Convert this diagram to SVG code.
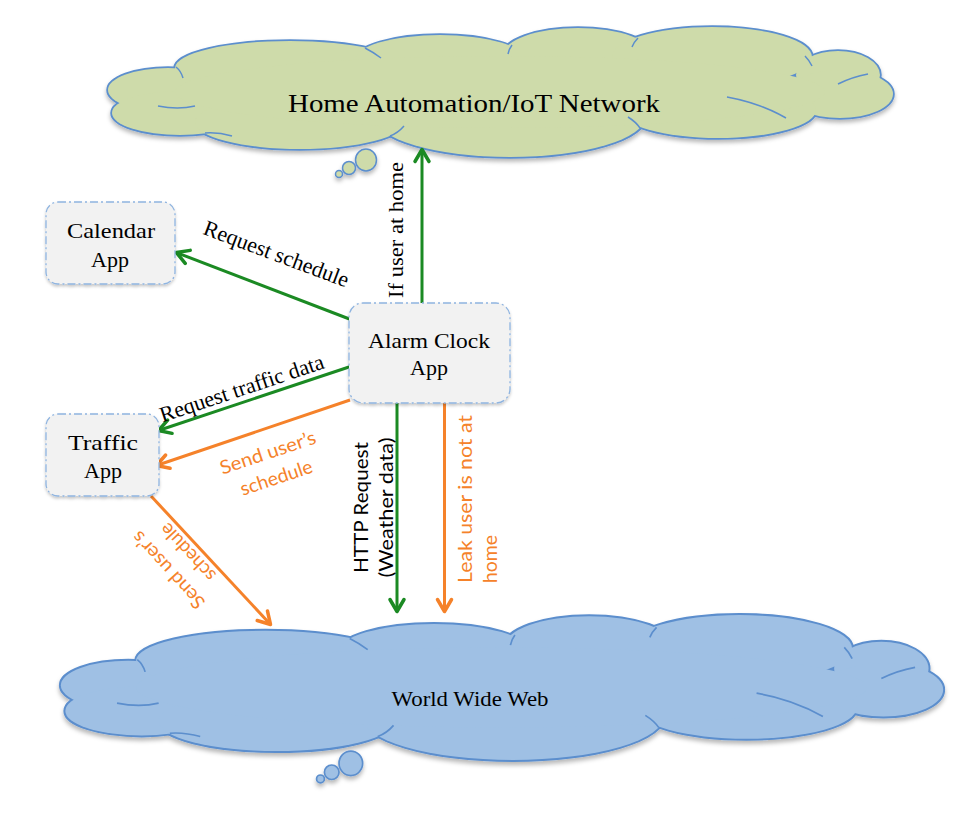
<svg xmlns="http://www.w3.org/2000/svg" width="977" height="816" viewBox="0 0 977 816">
<style>
.serif{font-family:"Liberation Serif","Times New Roman",serif;fill:#000}
.sans{font-family:Lato,"Liberation Sans",Arial,sans-serif}
.box{fill:#f2f2f2;stroke:#8fb4e0;stroke-width:1.3;stroke-dasharray:8 3 2 3}
.g{stroke:#1b8a23;stroke-width:3;fill:none}
.o{stroke:#f5822a;stroke-width:3;fill:none}
.ot{fill:#f5822a}
.inner{fill:none;stroke:#5b8ecd;stroke-width:1.5}
.bub{stroke:#5b8ecd;stroke-width:1.5}
</style>
<defs>
<filter id="sh" x="-5%" y="-10%" width="110%" height="130%"><feDropShadow dx="0" dy="3" stdDeviation="2" flood-color="#000" flood-opacity="0.28"/></filter>
<filter id="bsh" x="-10%" y="-10%" width="120%" height="130%"><feDropShadow dx="0" dy="2" stdDeviation="1.5" flood-color="#000" flood-opacity="0.22"/></filter>
<marker id="ag" markerUnits="userSpaceOnUse" markerWidth="20" markerHeight="20" refX="0" refY="0" orient="auto" overflow="visible"><path d="M-12,-7 L0,0 L-12,7" fill="none" stroke="#1b8a23" stroke-width="3.5" stroke-linecap="round" stroke-linejoin="round"/></marker>
<marker id="ao" markerUnits="userSpaceOnUse" markerWidth="20" markerHeight="20" refX="0" refY="0" orient="auto" overflow="visible"><path d="M-12,-7 L0,0 L-12,7" fill="none" stroke="#f5822a" stroke-width="3.5" stroke-linecap="round" stroke-linejoin="round"/></marker>
<g id="lobes">
<ellipse cx="168" cy="90" rx="60" ry="22"/>
<ellipse cx="180" cy="113" rx="68" ry="22"/>
<ellipse cx="300" cy="122" rx="105" ry="27"/>
<ellipse cx="290" cy="68" rx="115" ry="27"/>
<ellipse cx="440" cy="60" rx="85" ry="25"/>
<ellipse cx="578" cy="55" rx="75" ry="27"/>
<ellipse cx="712" cy="57" rx="100" ry="30"/>
<ellipse cx="838" cy="75" rx="42" ry="24"/>
<ellipse cx="840" cy="94" rx="53" ry="24"/>
<ellipse cx="718" cy="110" rx="98" ry="28"/>
<ellipse cx="510" cy="117" rx="135" ry="40"/>
<ellipse cx="500" cy="92" rx="325" ry="36"/>
</g>
<g id="cloud">
<use href="#lobes" stroke="#5b8ecd" stroke-width="3.5"/>
<use href="#lobes" stroke="none"/>
<path class="inner" d="M176,67 Q181,71 183,78 M158,106 Q178,110 195,106 M205,133 Q218,132 232,136 M390,136 Q398,133 404,126 M640,128 Q636,122 628,117 M727,97 Q760,103 786,118 M838,84 Q852,77 868,74 M805,56 Q809,60 812,66 M638,38 Q634,42 632,47 M512,45 Q509,49 508,54 M365,48 Q373,52 381,58"/>
<g class="bub">
<ellipse cx="366" cy="160" rx="10.5" ry="11"/>
<ellipse cx="349" cy="168" rx="6.5" ry="6.5"/>
<ellipse cx="339" cy="174" rx="3.5" ry="3.5"/>
</g>
</g>
</defs>

<g id="home-network">
<use href="#cloud" fill="#cedbaa" filter="url(#sh)"/>
<text class="serif" x="474" y="112" font-size="25" text-anchor="middle" textLength="372" lengthAdjust="spacingAndGlyphs">Home Automation/IoT Network</text>
</g>

<g id="www">
<use href="#cloud" fill="#9fc0e4" filter="url(#sh)" transform="matrix(1.124 0 0 1.115 -60.56 584.92)"/>
<text class="serif" x="470" y="706" font-size="21" text-anchor="middle" textLength="157" lengthAdjust="spacingAndGlyphs">World Wide Web</text>
</g>

<g id="connectors">
<line class="g" x1="352" y1="320" x2="176.5" y2="252.6" marker-end="url(#ag)"/>
<line class="g" x1="422" y1="303" x2="422" y2="149.5" marker-end="url(#ag)"/>
<line class="g" x1="352" y1="366" x2="158.5" y2="430.5" marker-end="url(#ag)"/>
<line class="o" x1="350" y1="400" x2="156.5" y2="465.5" marker-end="url(#ao)"/>
<line class="o" x1="151" y1="496" x2="270.5" y2="624.5" marker-end="url(#ao)"/>
<line class="g" x1="397" y1="403" x2="397" y2="611.5" marker-end="url(#ag)"/>
<line class="o" x1="444.5" y1="403" x2="444.5" y2="611.5" marker-end="url(#ao)"/>
</g>

<g id="calendar-app">
<rect class="box" x="46" y="202" width="129" height="82" rx="12" filter="url(#bsh)"/>
<text class="serif" x="111" y="238" font-size="22" text-anchor="middle" textLength="88" lengthAdjust="spacingAndGlyphs">Calendar</text>
<text class="serif" x="110" y="267" font-size="22" text-anchor="middle">App</text>
</g>

<g id="alarm-clock-app">
<rect class="box" x="349" y="303" width="161" height="100" rx="14" filter="url(#bsh)"/>
<text class="serif" x="429" y="348" font-size="22" text-anchor="middle" textLength="122" lengthAdjust="spacingAndGlyphs">Alarm Clock</text>
<text class="serif" x="429" y="375" font-size="22" text-anchor="middle">App</text>
</g>

<g id="traffic-app">
<rect class="box" x="46" y="414" width="113" height="82" rx="12" filter="url(#bsh)"/>
<text class="serif" x="103" y="450" font-size="22" text-anchor="middle" textLength="70" lengthAdjust="spacingAndGlyphs">Traffic</text>
<text class="serif" x="103" y="478" font-size="22" text-anchor="middle">App</text>
</g>

<g id="labels">
<text class="serif" font-size="22" text-anchor="middle" transform="translate(276,255) rotate(20.5)" y="6">Request schedule</text>
<text class="serif" font-size="22" text-anchor="middle" textLength="136" lengthAdjust="spacingAndGlyphs" transform="translate(403,230) rotate(-90)">If user at home</text>
<text class="serif" font-size="22" text-anchor="middle" textLength="172" lengthAdjust="spacingAndGlyphs" transform="translate(242.5,390.5) rotate(-18.5)" y="5">Request traffic data</text>
<g class="sans ot" font-size="19" text-anchor="middle" transform="translate(272,465) rotate(-18.5)">
<text y="-6.5" textLength="100" lengthAdjust="spacingAndGlyphs">Send user’s</text>
<text y="20" textLength="75" lengthAdjust="spacingAndGlyphs">schedule</text>
</g>
<g class="sans ot" font-size="19" text-anchor="middle" transform="translate(178,561.25) rotate(227.3)">
<text y="-6.7" textLength="98" lengthAdjust="spacingAndGlyphs">Send user’s</text>
<text y="19.7" textLength="72" lengthAdjust="spacingAndGlyphs">schedule</text>
</g>
<g class="sans" fill="#000" font-size="19" text-anchor="middle" transform="translate(368,507.5) rotate(-90)">
<text y="0" textLength="131" lengthAdjust="spacingAndGlyphs">HTTP Request</text>
<text y="25" textLength="140" lengthAdjust="spacingAndGlyphs">(Weather data)</text>
</g>
<g class="sans ot" font-size="19" transform="translate(471.5,583) rotate(-90)">
<text y="0" textLength="168" lengthAdjust="spacingAndGlyphs">Leak user is not at</text>
<text y="25.5" textLength="48" lengthAdjust="spacingAndGlyphs">home</text>
</g>
</g>
</svg>
